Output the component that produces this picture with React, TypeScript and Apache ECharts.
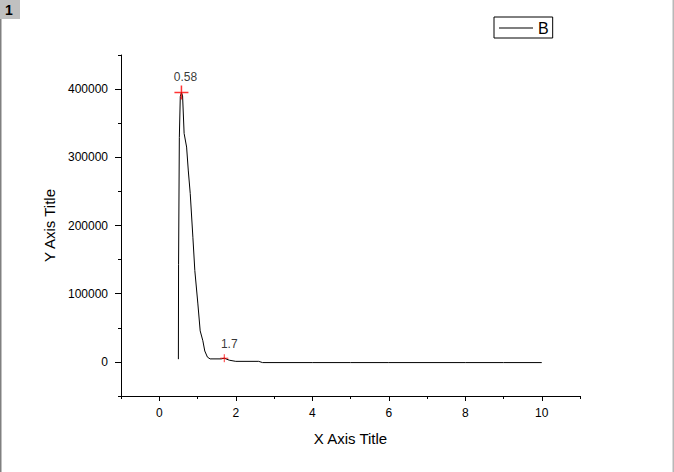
import React, { useEffect, useRef } from "react";
import * as echarts from "echarts";

const seriesName = "B";
const xs = [0.5, 0.505, 0.525, 0.55, 0.58, 0.61, 0.65, 0.715, 0.76, 0.81, 0.88, 0.93, 1.01, 1.07, 1.14, 1.19, 1.26, 1.33, 1.62, 1.7, 1.83, 2.0, 2.6, 2.7, 3.0, 4, 5, 6, 7, 8, 9, 10];
const ys = [4000, 143000, 329000, 389000, 395000, 390000, 335000, 315000, 280000, 247000, 182000, 134000, 85000, 45500, 31000, 16000, 7000, 4400, 4400, 5400, 2500, 800, 800, -1000, -1000, -1000, -1000, -1000, -1000, -1000, -1000, -1000];

const peakXs = [0.58, 1.7];
const peakYs = [395000, 5400];
const peakLabels = ["0.58", "1.7"];

const xMajor = [0, 2, 4, 6, 8, 10];
const xMinor = [-1, 1, 3, 5, 7, 9, 11];
const yMajor = [0, 100000, 200000, 300000, 400000];
const yMinor = [-50000, 50000, 150000, 250000, 350000, 450000];

const FONT = "'Liberation Sans', Arial, sans-serif";
const X_RANGE = { min: -1, max: 11 };
const Y_RANGE = { min: -50000, max: 450000 };

function tickAxis(range: { min: number; max: number }, pos: string, values: number[], len: number) {
  return {
    type: "value",
    ...range,
    position: pos,
    axisLine: { show: false, onZero: false },
    axisTick: { show: true, length: len, customValues: values, lineStyle: { color: "#000", width: 1 } },
    axisLabel: { show: false },
    splitLine: { show: false },
  };
}

export default function App() {
  const ref = useRef<HTMLDivElement>(null);
  useEffect(() => {
    document.body.style.margin = "0";
    const chart = echarts.init(ref.current!, null, { renderer: "svg" });
    chart.setOption({
      animation: false,
      backgroundColor: "#ffffff",
      textStyle: { fontFamily: FONT },
      grid: { left: 121, right: 94, top: 55, bottom: 76 },
      legend: {
        data: [{ name: seriesName, icon: "rect" }],
        left: 494,
        top: 17,
        borderColor: "#000",
        borderWidth: 1,
        borderRadius: 0,
        padding: [2, 4, 1, 5],
        itemWidth: 34,
        itemHeight: 1,
        itemStyle: { color: "#000" },
        textStyle: { fontSize: 16, color: "#000", fontFamily: FONT, lineHeight: 18 },
        selectedMode: false,
      },
      xAxis: [
        {
          type: "value",
          ...X_RANGE,
          name: "X Axis Title",
          nameLocation: "middle",
          nameGap: 35,
          nameTextStyle: { fontSize: 15, color: "#000", fontFamily: FONT },
          axisLine: { show: true, onZero: false, lineStyle: { color: "#000", width: 1 } },
          axisTick: { show: false },
          axisLabel: { customValues: xMajor, fontSize: 12, color: "#000", margin: 11 },
          splitLine: { show: false },
        },
        tickAxis(X_RANGE, "bottom", xMajor, 5),
        tickAxis(X_RANGE, "bottom", xMinor, 3),
      ],
      yAxis: [
        {
          type: "value",
          ...Y_RANGE,
          name: "Y Axis Title",
          nameLocation: "middle",
          nameGap: 57,
          nameRotate: 90,
          nameTextStyle: { fontSize: 15, color: "#000", fontFamily: FONT },
          axisLine: { show: true, onZero: false, lineStyle: { color: "#000", width: 1 } },
          axisTick: { show: false },
          axisLabel: { customValues: yMajor, fontSize: 12, color: "#000", margin: 13, formatter: (v: number) => String(v) },
          splitLine: { show: false },
        },
        tickAxis(Y_RANGE, "left", yMajor, 6),
        tickAxis(Y_RANGE, "left", yMinor, 3),
      ],
      series: [
        {
          name: seriesName,
          type: "line",
          xAxisIndex: 0,
          yAxisIndex: 0,
          symbol: "none",
          lineStyle: { color: "#000", width: 1 },
          itemStyle: { color: "#000" },
          data: xs.map((x, i) => [x, ys[i]]),
        },
        {
          name: "peaks",
          type: "scatter",
          xAxisIndex: 0,
          yAxisIndex: 0,
          z: 5,
          data: peakXs.map((x, i) => ({
            value: [x, peakYs[i]],
            symbol: i === 0 ? "path://M0,7H14M7,0V14" : "path://M0,4H8M4,0V8",
            symbolSize: i === 0 ? 14 : 8,
            itemStyle: { color: "transparent", borderColor: "#ff0000", borderWidth: i === 0 ? 1.5 : 1 },
            label: {
              show: true,
              formatter: peakLabels[i],
              position: "top",
              distance: i === 0 ? 2 : 4,
              offset: [i === 0 ? 4 : 5, 0],
              fontSize: 12,
              color: "#000",
              fontFamily: FONT,
            },
          })),
        },
      ],
      graphic: [
        { type: "rect", left: 0, top: 0, shape: { width: 20, height: 19 }, style: { fill: "#c0c0c0" } },
        { type: "text", left: 5, top: 3, style: { text: "1", font: "bold 14px " + FONT, fill: "#000" } },
        { type: "rect", left: 0, top: 19, shape: { width: 1.5, height: 453 }, style: { fill: "#808080" } },
        { type: "rect", left: 672.5, top: 0, shape: { width: 1.5, height: 472 }, style: { fill: "#b8b8b8" } },
      ],
    });
    return () => chart.dispose();
  }, []);
  return <div ref={ref} style={{ width: 674, height: 472 }} />;
}
